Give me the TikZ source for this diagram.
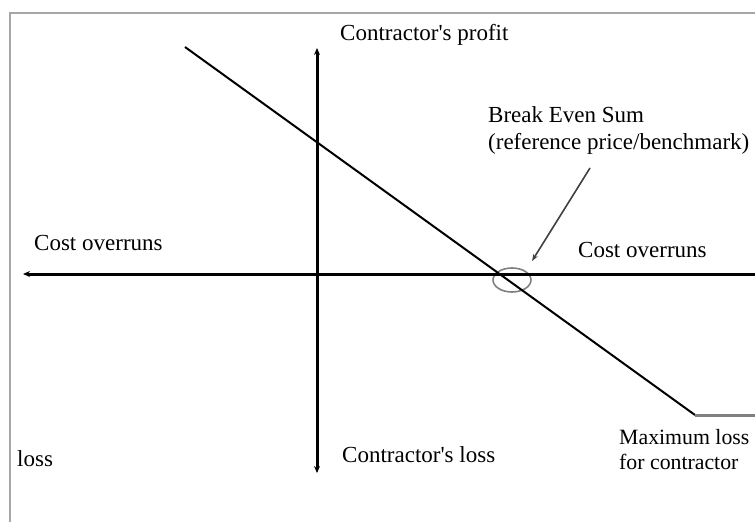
\documentclass[tikz,border=0pt]{standalone}
\usepackage{fontspec}
\setmainfont{Liberation Serif}
\usetikzlibrary{positioning,shapes.geometric,arrows.meta}
\tikzstyle{arrow} = [line width=3pt,-{Stealth[length=7pt,width=6pt]}]

\begin{document}
\begin{tikzpicture}[x=1pt,y=-1pt]
			\tikzstyle{label} = [inner sep=0pt, anchor=west, align=left, font=\fontsize{23}{25}\selectfont];
			\useasboundingbox (0,0) rectangle (755,522);
			\draw [gray!70, line width=1.6pt] (10,522) -- (10,13) -- (755,13);
			\coordinate (west) at (23,274);
			\coordinate (east) at (755,274);
			\coordinate (top) at (317,48);
			\coordinate (bottom) at (317,473);
			\coordinate (high) at (185,47);
			\coordinate (low) at (695,415);
			\coordinate (flat) at (755,415);
			\coordinate (ptr) at (590,168);
			\coordinate (ptrtip) at (532,261);
			\node (profit) [label] at (340,35) {Contractor\textquotesingle s profit};
			\node (breakeven) [label, font=\fontsize{23}{27}\selectfont] at (488,130) {Break Even Sum\\(reference price/benchmark)};
			\node (overleft) [label] at (34,243) {Cost overruns};
			\node (overright) [label] at (578,250) {Cost overruns};
			\node (lossleft) [label] at (17,459) {loss};
			\node (closs) [label] at (342,455) {Contractor\textquotesingle s loss};
			\node (maxloss) [label, font=\fontsize{21.8}{25}\selectfont] at (619,450) {Maximum loss\\for contractor};
			\node (bes) [ellipse, draw=gray, line width=1.6pt, minimum width=38pt, minimum height=24pt, inner sep=0pt] at (512,280) {};
			\draw [arrow] (east) -- (west);
			\draw [line width=3pt,{Stealth[length=7pt,width=6pt]}-{Stealth[length=7pt,width=6pt]}] (bottom) -- (top);
			\draw [line width=2pt] (high) -- (low);
			\draw [gray, line width=3pt] (low) -- (flat);
			\draw [black!75, line width=1.6pt, -{Stealth[length=7pt,width=5pt]}] (ptr) -- (ptrtip);
		\end{tikzpicture}
\end{document}
